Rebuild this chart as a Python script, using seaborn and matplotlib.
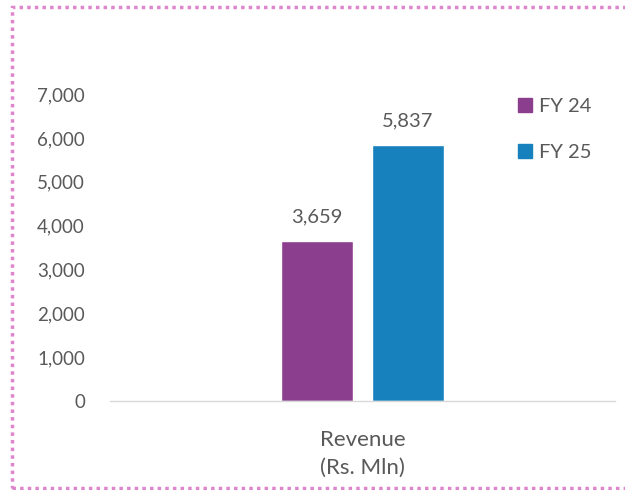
import pandas as pd
import matplotlib.pyplot as plt
import matplotlib.patches as patches
import seaborn as sns

# =====================================
# DATA
# =====================================

categories = ["Revenue\n(Rs. Mln)"]
years = ["FY 24", "FY 25"]
values = [3659, 5837]
colors = ["#8B3D8E", "#1681BC"]

df = pd.DataFrame({
    "category": categories * len(years),
    "year": years,
    "value": values,
})

# =====================================
# PLOT
# =====================================

sns.set_style("white")
plt.rcParams['font.family'] = ['Lato', 'DejaVu Sans']
text_color = "#595959"

fig = plt.figure(figsize=(6.25, 4.9), dpi=100)
ax = fig.add_axes([0.176, 0.1816, 0.808, 0.6265])

sns.barplot(
    data=df,
    x="category",
    y="value",
    hue="year",
    palette=colors,
    saturation=1,
    width=0.36,
    gap=0.21,
    ax=ax,
    legend=False
)

ax.set_xlim(-0.5, 0.5)
ax.set_ylim(0, 7000)
ax.set_yticks(range(0, 7001, 1000))
ax.set_yticklabels([f"{v:,}" for v in range(0, 7001, 1000)])
ax.set_xlabel("")
ax.set_ylabel("")

for c in ax.containers:
    ax.bar_label(c, labels=[f"{v:,.0f}" for v in c.datavalues],
                 padding=11, fontsize=14.5, color=text_color)

ax.tick_params(axis='y', labelsize=13.5, colors=text_color, length=0, pad=18)
ax.tick_params(axis='x', labelsize=16, colors=text_color, length=0, pad=21)
for lbl in ax.get_xticklabels():
    lbl.set_linespacing(1.5)

for s in ["top", "right", "left"]:
    ax.spines[s].set_visible(False)
ax.spines["bottom"].set_color("#D9D9D9")
ax.spines["bottom"].set_linewidth(1)

# legend
handles = [patches.Patch(color=c) for c in colors]
fig.legend(
    handles, years,
    loc="upper left",
    bbox_to_anchor=(0.799, 0.838),
    frameon=False,
    fontsize=14.5,
    labelcolor=text_color,
    handlelength=0.7,
    handleheight=0.7,
    handletextpad=0.35,
    labelspacing=1.45
)

# dotted border
border = patches.Rectangle(
    (0.0192, 0.004), 1.1, 0.9817,
    transform=fig.transFigure,
    fill=False,
    edgecolor="#DE86CC",
    linestyle=(0, (1, 1.2)),
    linewidth=2.5,
    clip_on=False
)
fig.patches.append(border)

plt.savefig("out.png", dpi=100)
plt.close()
